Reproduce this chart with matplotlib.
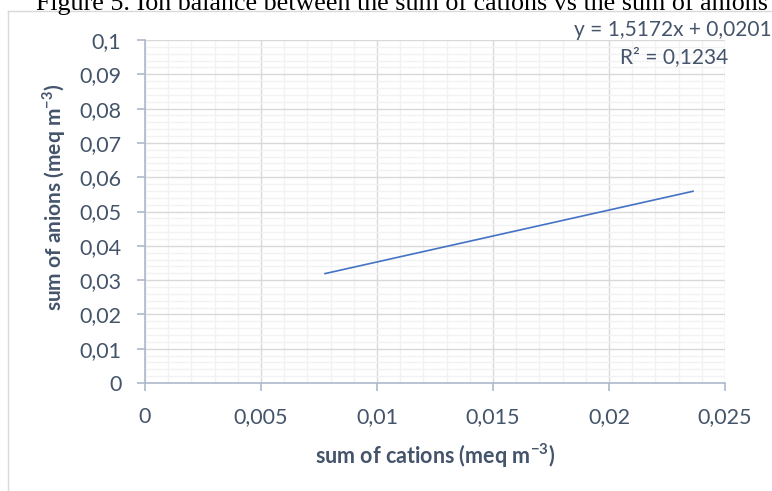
import matplotlib
matplotlib.use('Agg')
import matplotlib.pyplot as plt
from matplotlib.ticker import MultipleLocator, FuncFormatter
from matplotlib.lines import Line2D

# ========== Datos ==========
trend_x = [0.00776, 0.02362]
trend_y = [0.0319, 0.0559]
equation = 'y = 1,5172x + 0,0201'
r2_text = 'R² = 0,1234'
title = 'Figure 5. Ion balance between the sum of cations vs the sum of anions'
xlabel = 'sum of cations (meq m$^{\\mathbf{-3}}$)'
ylabel = 'sum of anions (meq m$^{\\mathbf{-3}}$)'

# ========== Estilo ==========
txt_color = '#44546A'
axis_color = '#ADB9CA'
plt.rcParams['font.family'] = ['Lato', 'DejaVu Sans']
plt.rcParams['mathtext.fontset'] = 'custom'
plt.rcParams['mathtext.rm'] = 'Lato'
plt.rcParams['mathtext.bf'] = 'Lato:bold'

fig = plt.figure(figsize=(7.72, 4.91), dpi=100)
ax = fig.add_axes([145/772, 1-383/491, 580/772, 343/491])

ax.plot(trend_x, trend_y, color='#4472C4', lw=1.2)

ax.set_xlim(0, 0.025)
ax.set_ylim(0, 0.1)
ax.xaxis.set_major_locator(MultipleLocator(0.005))
ax.xaxis.set_minor_locator(MultipleLocator(0.001))
ax.yaxis.set_major_locator(MultipleLocator(0.01))
ax.yaxis.set_minor_locator(MultipleLocator(0.002))

comma = FuncFormatter(lambda v, p: ('%g' % round(v, 4)).replace('.', ','))
ax.xaxis.set_major_formatter(comma)
ax.yaxis.set_major_formatter(comma)

ax.grid(which='major', color='#D9D9D9', lw=1.0)
ax.grid(which='minor', color='#F2F2F2', lw=1.0)
ax.set_axisbelow(True)

for s in ['top', 'right']:
    ax.spines[s].set_visible(False)
for s in ['left', 'bottom']:
    ax.spines[s].set_color(axis_color)
    ax.spines[s].set_linewidth(1.2)

ax.tick_params(which='major', direction='out', length=6, width=1.2, color=axis_color,
               labelcolor=txt_color, labelsize=15.5)
ax.tick_params(axis='x', pad=11)
ax.tick_params(axis='y', pad=11)
ax.tick_params(which='minor', length=0)

ax.set_xlabel(xlabel, fontsize=15.5, fontweight='bold', color=txt_color, labelpad=11)
ax.set_ylabel(ylabel, fontsize=15, fontweight='bold', color=txt_color)
ax.yaxis.set_label_coords(-0.133, 0.542)

# Ecuacion de la tendencia
fig.text(772/772, 1-30/491, equation, ha='right', va='center', fontsize=15, color=txt_color)
fig.text(728/772, 1-57/491, r2_text, ha='right', va='center', fontsize=15, color=txt_color)

# Marco del grafico
fig.add_artist(Line2D([8/772, 8/772], [0, 1-11/491], color='#D9D9D9', lw=1))
fig.add_artist(Line2D([8/772, 1], [1-11/491, 1-11/491], color='#D9D9D9', lw=1))

# Titulo (cortado arriba)
fig.text(402/772, 1-4/491, title, ha='center', va='center', fontsize=18.7,
         family='Liberation Serif', color='black')

fig.savefig('out.png', dpi=100)
